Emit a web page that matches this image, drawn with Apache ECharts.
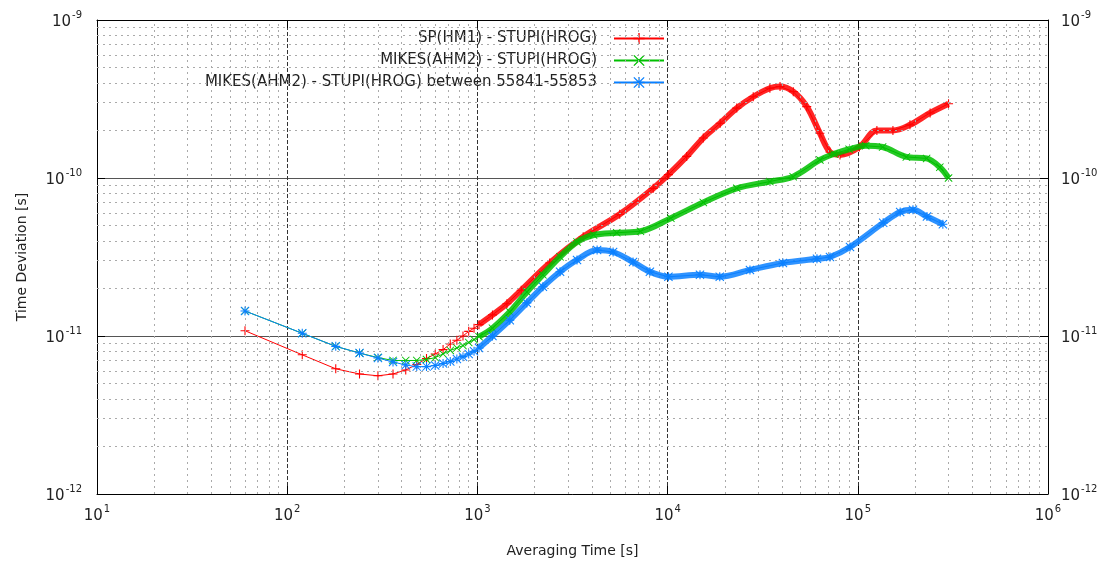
<!DOCTYPE html>
<html>
<head>
<meta charset="utf-8">
<script src="https://cdn.jsdelivr.net/npm/echarts@6/dist/echarts.min.js"></script>
<style>
  html, body { margin: 0; padding: 0; background: #fff; }
  #main { width: 1106px; height: 563px; }
</style>
</head>
<body>
<div id="main"></div>
<script>
// averaging time [s] and time deviation [s]
var tauSP = [60,120,180,240,300,360,420,480,540,600,660,720,780,840,900,960,1020,1200,1430,1700,2400,3600,5600,8400,10100,12600,15400,18900,23100,28200,34500,39000,45800,53900,63200,71400,80600,102000,126000,153000,188000,240000,300000];
var devSP = [1.08e-11,7.6e-12,6.2e-12,5.75e-12,5.6e-12,5.75e-12,6.1e-12,6.6e-12,7.2e-12,7.7e-12,8.2e-12,8.9e-12,9.4e-12,1.0e-11,1.07e-11,1.12e-11,1.18e-11,1.36e-11,1.6e-11,1.95e-11,2.9e-11,4.25e-11,5.9e-11,8.6e-11,1.05e-10,1.37e-10,1.79e-10,2.22e-10,2.77e-10,3.27e-10,3.7e-10,3.79e-10,3.52e-10,2.83e-10,1.92e-10,1.46e-10,1.4e-10,1.57e-10,2.0e-10,2.0e-10,2.17e-10,2.58e-10,2.95e-10];

var tauMK = [60,120,180,240,300,360,420,480,540,600,660,720,780,840,900,960,1020,1200,1480,1820,2210,2720,3340,4080,5400,7200,10400,15400,23100,34500,45700,63200,75000,90000,110000,135000,180000,230000,270000,300000];
var devMK = [1.44e-11,1.04e-11,8.6e-12,7.8e-12,7.3e-12,7.0e-12,7.0e-12,7.0e-12,7.1e-12,7.3e-12,7.7e-12,8.1e-12,8.4e-12,8.7e-12,9.1e-12,9.5e-12,9.9e-12,1.12e-11,1.42e-11,1.9e-11,2.44e-11,3.17e-11,3.94e-11,4.36e-11,4.5e-11,4.6e-11,5.57e-11,7.0e-11,8.6e-11,9.5e-11,1.02e-10,1.3e-10,1.42e-10,1.52e-10,1.6e-10,1.57e-10,1.36e-10,1.33e-10,1.17e-10,1.0e-10];

var tauMKsub = [60,120,180,240,300,360,420,480,540,600,660,720,780,840,900,960,1020,1200,1480,1820,2210,2720,3340,4260,5170,6580,8070,10100,14800,18800,27100,40400,61000,71400,91000,136000,167000,195000,231000,280000];
var devMKsub = [1.44e-11,1.04e-11,8.6e-12,7.8e-12,7.25e-12,6.85e-12,6.55e-12,6.4e-12,6.4e-12,6.5e-12,6.7e-12,6.9e-12,7.15e-12,7.4e-12,7.7e-12,8.0e-12,8.4e-12,1.0e-11,1.26e-11,1.62e-11,2.05e-11,2.55e-11,3.03e-11,3.5e-11,3.4e-11,2.94e-11,2.55e-11,2.37e-11,2.44e-11,2.37e-11,2.62e-11,2.9e-11,3.08e-11,3.16e-11,3.66e-11,5.2e-11,6.1e-11,6.3e-11,5.7e-11,5.1e-11];

var names = ['SP(HM1) - STUPI(HROG)', 'MIKES(AHM2) - STUPI(HROG)', 'MIKES(AHM2) - STUPI(HROG) between 55841-55853'];

var FONT = 'DejaVu Sans';
var PLUS = 'path://M0,4.4H10V5.6H0Z M4.4,0H5.6V10H4.4Z';
var CROSS = 'path://M0.8,0L5,4.2L9.2,0L10,0.8L5.8,5L10,9.2L9.2,10L5,5.8L0.8,10L0,9.2L4.2,5L0,0.8Z';
var STAR = PLUS + ' M0.8,0L5,4.2L9.2,0L10,0.8L5.8,5L10,9.2L9.2,10L5,5.8L0.8,10L0,9.2L4.2,5L0,0.8Z';

function pairs(xs, ys) {
    return xs.map(function (x, i) { return [x, ys[i]]; });
}
// markers overlap into a thick band once points get dense
function dense(xs, ys) {
    return pairs(xs, ys).filter(function (p) { return p[0] >= 1000; });
}

// minor grid at 2..9 of each decade
var minorX = [], minorY = [];
for (var d = 1; d < 6; d++) for (var k = 2; k < 10; k++) minorX.push({xAxis: k * Math.pow(10, d)});
for (var e = -12; e < -9; e++) for (var k2 = 2; k2 < 10; k2++) minorY.push({yAxis: k2 * Math.pow(10, e)});

function powLabel(v) {
    var p = Math.round(Math.log(v) / Math.LN10);
    return '{b|10}{s|' + p + '}';
}
var labelRich = {
    b: {fontSize: 15, fontFamily: FONT, color: '#222', lineHeight: 20, verticalAlign: 'bottom'},
    s: {fontSize: 10, fontFamily: FONT, color: '#222', lineHeight: 20, verticalAlign: 'top', padding: [0, 0, 0, 1]}
};

function lineSeries(name, data, color, symbol, size, z) {
    return {
        name: name, type: 'line', data: data, z: z,
        symbol: symbol, symbolSize: size,
        itemStyle: {color: color},
        lineStyle: {color: color, width: 1},
        emphasis: {disabled: true}
    };
}
function bandSeries(name, data, color, z) {
    return {
        name: name, type: 'line', data: data, z: z,
        symbol: 'none', smooth: 0.35,
        lineStyle: {color: color, width: 6, opacity: 0.85},
        emphasis: {disabled: true}
    };
}

var colors = ['#ff0000', '#00c000', '#0a80ff'];

var myChart = echarts.init(document.getElementById('main'));
myChart.setOption({
    animation: false,
    backgroundColor: '#fff',
    grid: {left: 97, right: 58, top: 20, bottom: 68},
    legend: {
        data: names,
        orient: 'vertical',
        align: 'right',
        right: 436,
        top: 26,
        itemWidth: 50,
        itemHeight: 14,
        itemGap: 7,
        selectedMode: false,
        lineStyle: {width: 2},
        textStyle: {fontFamily: FONT, fontSize: 15, color: '#222', width: 480, align: 'right', padding: [0, 12, 0, 0]}
    },
    xAxis: [{
        type: 'log', logBase: 10, min: 10, max: 1e6, position: 'bottom',
        name: 'Averaging Time [s]', nameLocation: 'middle', nameGap: 50,
        nameTextStyle: {fontFamily: FONT, fontSize: 14, color: '#222'},
        axisLine: {lineStyle: {color: '#000', width: 1}},
        axisTick: {inside: true, length: 8, lineStyle: {color: '#000'}},
        axisLabel: {formatter: powLabel, rich: labelRich, margin: 10},
        splitLine: {show: true, lineStyle: {type: [4, 2], color: '#333', width: 1}}
    }, {
        type: 'log', logBase: 10, min: 10, max: 1e6, position: 'top',
        axisLine: {lineStyle: {color: '#000', width: 1}},
        axisTick: {inside: true, length: 8, lineStyle: {color: '#000'}},
        axisLabel: {show: false},
        splitLine: {show: false}
    }],
    yAxis: [{
        type: 'log', logBase: 10, min: 1e-12, max: 1e-9, position: 'left',
        name: 'Time Deviation [s]', nameLocation: 'middle', nameGap: 68,
        nameTextStyle: {fontFamily: FONT, fontSize: 14, color: '#222'},
        axisLine: {show: true, lineStyle: {color: '#000', width: 1}},
        axisTick: {inside: true, length: 8, lineStyle: {color: '#000'}},
        axisLabel: {formatter: powLabel, rich: labelRich, margin: 15},
        splitLine: {show: true, lineStyle: {type: 'solid', color: '#555', width: 1}}
    }, {
        type: 'log', logBase: 10, min: 1e-12, max: 1e-9, position: 'right',
        axisLine: {show: true, lineStyle: {color: '#000', width: 1}},
        axisTick: {inside: true, length: 8, lineStyle: {color: '#000'}},
        axisLabel: {formatter: powLabel, rich: labelRich, margin: 13},
        splitLine: {show: false}
    }],
    series: [
        {
            name: 'minor grid', type: 'line', data: [], z: 1, silent: true,
            markLine: {
                silent: true, symbol: ['none', 'none'], label: {show: false},
                precision: 20,
                lineStyle: {type: [2, 4], color: '#aaa', width: 1},
                emphasis: {disabled: true},
                data: minorX.concat(minorY)
            }
        },
        lineSeries(names[0], pairs(tauSP, devSP), colors[0], PLUS, 9, 4),
        bandSeries(names[0], dense(tauSP, devSP), colors[0], 3),
        lineSeries(names[1], pairs(tauMK, devMK), colors[1], CROSS, 8, 6),
        bandSeries(names[1], dense(tauMK, devMK), colors[1], 5),
        lineSeries(names[2], pairs(tauMKsub, devMKsub), colors[2], STAR, 9, 8),
        bandSeries(names[2], dense(tauMKsub, devMKsub), colors[2], 7)
    ]
});
</script>
</body>
</html>
